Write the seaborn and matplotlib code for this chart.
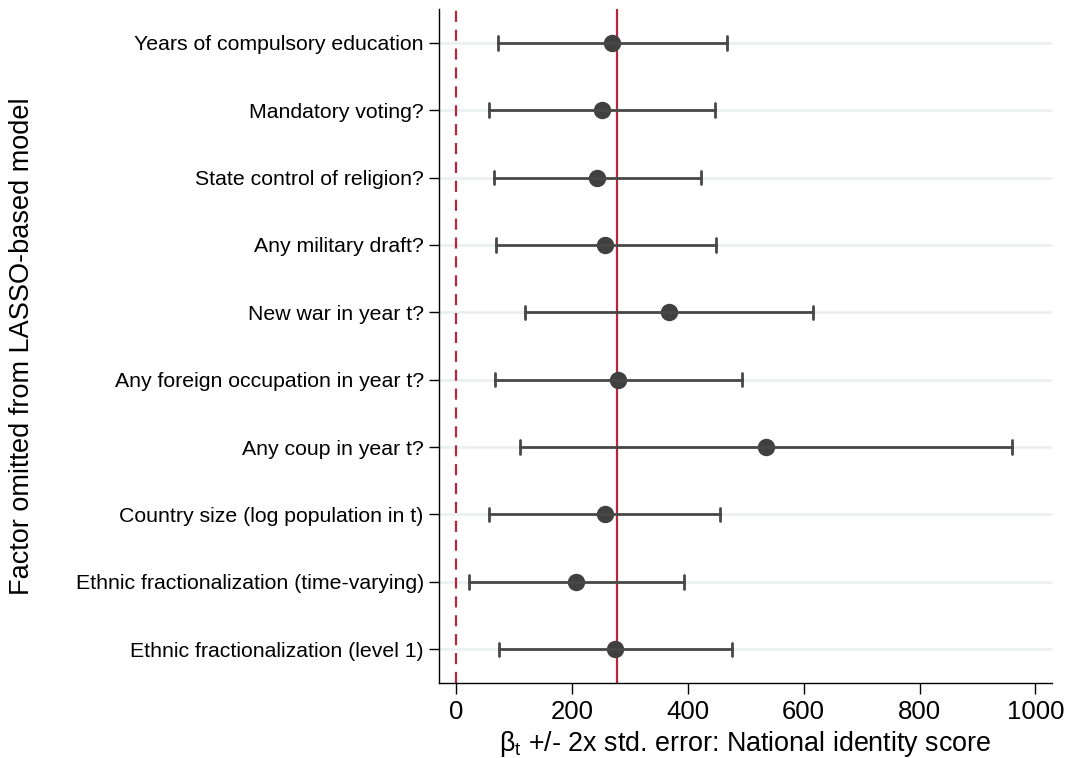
import numpy as np
import pandas as pd
import matplotlib
matplotlib.use("Agg")
import matplotlib.pyplot as plt
import seaborn as sns

# factors omitted (top to bottom) with estimate and +/- 2 s.e. bounds
factors = [
    "Years of compulsory education",
    "Mandatory voting?",
    "State control of religion?",
    "Any military draft?",
    "New war in year t?",
    "Any foreign occupation in year t?",
    "Any coup in year t?",
    "Country size (log population in t)",
    "Ethnic fractionalization (time-varying)",
    "Ethnic fractionalization (level 1)",
]
beta = [270, 252, 244, 258, 368, 280, 535, 257, 207, 275]
lower = [72, 57, 65, 69, 120, 67, 111, 57, 22, 74]
upper = [468, 447, 423, 448, 616, 494, 960, 456, 394, 477]
baseline = 277.6

sns.set_style("white")
plt.rcParams["font.family"] = ["Liberation Sans", "DejaVu Sans"]
plt.rcParams["mathtext.fontset"] = "custom"
plt.rcParams["mathtext.rm"] = "Liberation Sans"
plt.rcParams["mathtext.it"] = "Liberation Sans"
plt.rcParams["text.color"] = "black"
plt.rcParams["axes.labelcolor"] = "black"
plt.rcParams["xtick.color"] = "black"
plt.rcParams["ytick.color"] = "black"

# long form: lo / estimate / hi per factor -> median gives estimate, pi 100 gives bounds
rows = []
for f, lo, b, hi in zip(factors, lower, beta, upper):
    for v in (lo, b, hi):
        rows.append({"factor": f, "value": v})
df = pd.DataFrame(rows)

fig = plt.figure(figsize=(10.71, 7.58), dpi=100)
ax = fig.add_axes([0.41, 0.099, 0.572, 0.889])

ax.axvline(0, color="#b5283b", lw=1.6, ls=(0, (5, 3.5)), zorder=1.5)
ax.axvline(baseline, color="#b5283b", lw=1.6, zorder=1.5)

sns.pointplot(data=df, x="value", y="factor", order=factors,
              estimator="median", errorbar=("pi", 100),
              linestyle="none", color="#404040", capsize=0.2,
              markersize=10.5, err_kws={"linewidth": 2.0, "color": "#484848"}, ax=ax)

ax.set_xlim(-29, 1028)
ax.set_ylim(9.5, -0.5)
ax.set_xticks([0, 200, 400, 600, 800, 1000])
ax.grid(axis="y", color="#eaf1f3", linewidth=2)
ax.grid(axis="x", visible=False)
ax.set_axisbelow(True)

for s in ["top", "right"]:
    ax.spines[s].set_visible(False)
for s in ["left", "bottom"]:
    ax.spines[s].set_color("black")
    ax.spines[s].set_linewidth(1.0)

ax.tick_params(axis="y", left=True, length=7, width=1, labelsize=15.3, pad=4)
ax.tick_params(axis="x", bottom=True, length=8, width=1, labelsize=18.5, pad=4)
ax.set_xlabel(r"$\mathrm{\beta}_{\mathrm{t}}$ +/- 2x std. error: National identity score",
              fontsize=19.4, labelpad=4)
ax.set_ylabel("Factor omitted from LASSO-based model", fontsize=19.5)
ax.yaxis.set_label_coords(-0.66, 0.5)

fig.savefig("out.png", dpi=100)
